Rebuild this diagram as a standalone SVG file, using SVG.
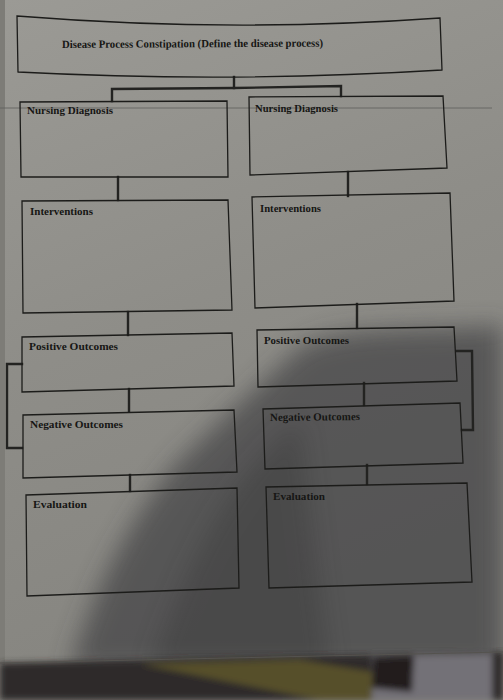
<svg xmlns="http://www.w3.org/2000/svg" width="503" height="700" viewBox="0 0 503 700">
<style>
.box{fill:none;stroke:#1c1c1a;stroke-width:1.3;stroke-linejoin:miter}
.lbl{font-family:"Liberation Serif","Times New Roman",serif;font-weight:bold;font-size:11px;fill:#161614}
.con{fill:none;stroke:#232321;stroke-width:2.4;stroke-linecap:square}
</style>
<defs>
<linearGradient id="paper" x1="0" y1="0" x2="0.3" y2="1">
<stop offset="0" stop-color="#9b9a95"/>
<stop offset="0.5" stop-color="#8e8d88"/>
<stop offset="1" stop-color="#85847f"/>
</linearGradient>
<filter id="blur" x="-20%" y="-20%" width="140%" height="140%"><feGaussianBlur stdDeviation="12"/></filter>
<filter id="blur2"><feGaussianBlur stdDeviation="3"/></filter>
</defs>
<!-- paper and photo backdrop -->
<rect x="0" y="0" width="503" height="700" fill="url(#paper)"/>
<rect x="0" y="0" width="5" height="665" fill="#7d7c77"/>
<path d="M503,325 C430,332 330,322 295,352 C255,390 215,425 175,465 C125,525 90,600 70,670 L503,670 Z" fill="#3e3e3f" opacity="0.66" filter="url(#blur)"/>
<path d="M300,420 C250,460 200,520 150,670 L330,670 C320,600 310,500 300,420 Z" fill="#2e2e2e" opacity="0.3" filter="url(#blur)"/>
<line x1="0" y1="108" x2="492" y2="108" stroke="#5e5e5b" stroke-width="0.8"/>
<g id="backdrop" filter="url(#blur2)">
<path d="M0,663 L503,652 L503,700 L0,700 Z" fill="#2f2c29"/>
<path d="M140,664 L300,660 L372,672 L372,700 L320,700 Z" fill="#56502c"/>
<path d="M372,656 L492,654 L492,700 L372,700 Z" fill="#737177"/>
<path d="M373,657 L414,656 L412,692 L372,688 Z" fill="#211c1f"/>
</g>
<path d="M0,663 L503,652" stroke="#55534f" stroke-width="1" fill="none"/>

<g id="connectors">
<polyline class="con" points="234,77 234,88"/>
<polyline class="con" points="112,101 112,89 234,88 341,86 341,96"/>
<polyline class="con" points="118,177 118,200"/>
<polyline class="con" points="348,172 348,196"/>
<polyline class="con" points="128,312 128,335"/>
<polyline class="con" points="129,389 129,411"/>
<polyline class="con" points="22,364 7,364 7,448 22,448"/>
<polyline class="con" points="130,475 130,491"/>
<polyline class="con" points="357,304 357,328"/>
<polyline class="con" points="364,383 364,405"/>
<polyline class="con" points="457,351 472,351 473,430 462,430"/>
<polyline class="con" points="367,465 367,484"/>
</g>

<g id="disease-process">
<path class="box" d="M17,16 Q230,33 440,18 L442,70 Q230,83 18,72 Z"/>
<text class="lbl" x="62" y="48" font-size="10" textLength="261" lengthAdjust="spacingAndGlyphs" transform="rotate(-0.3 62 48)">Disease Process Constipation (Define the disease process)</text>
</g>
<g id="nursing-diagnosis-left">
<polygon class="box" points="20,102 227,101 228,177 21,177"/>
<text class="lbl" x="27" y="114" textLength="86" lengthAdjust="spacingAndGlyphs">Nursing Diagnosis</text>
</g>
<g id="nursing-diagnosis-right">
<polygon class="box" points="249,97 443,96 447,168 250,175"/>
<text class="lbl" x="255" y="112" textLength="83" lengthAdjust="spacingAndGlyphs">Nursing Diagnosis</text>
</g>
<g id="interventions-left">
<polygon class="box" points="22,201 228,200 232,310 23,313"/>
<text class="lbl" x="30" y="215" textLength="63" lengthAdjust="spacingAndGlyphs">Interventions</text>
</g>
<g id="interventions-right">
<polygon class="box" points="252,197 450,193 454,301 255,308"/>
<text class="lbl" x="260" y="212" textLength="61" lengthAdjust="spacingAndGlyphs">Interventions</text>
</g>
<g id="positive-outcomes-left">
<polygon class="box" points="22,337 232,333 234,386 22,392"/>
<text class="lbl" x="29" y="350" textLength="89" lengthAdjust="spacingAndGlyphs">Positive Outcomes</text>
</g>
<g id="positive-outcomes-right">
<polygon class="box" points="257,330 454,327 457,381 258,387"/>
<text class="lbl" x="264" y="344" textLength="85" lengthAdjust="spacingAndGlyphs">Positive Outcomes</text>
</g>
<g id="negative-outcomes-left">
<polygon class="box" points="23,415 234,410 237,472 23,478"/>
<text class="lbl" x="30" y="428" textLength="93" lengthAdjust="spacingAndGlyphs">Negative Outcomes</text>
</g>
<g id="negative-outcomes-right">
<polygon class="box" points="263,409 460,403 463,463 265,469"/>
<text class="lbl" x="270" y="421" textLength="90" lengthAdjust="spacingAndGlyphs" transform="rotate(-0.6 270 421)">Negative Outcomes</text>
</g>
<g id="evaluation-left">
<polygon class="box" points="26,495 237,488 239,588 27,596"/>
<text class="lbl" x="33" y="508" textLength="54" lengthAdjust="spacingAndGlyphs">Evaluation</text>
</g>
<g id="evaluation-right">
<polygon class="box" points="266,487 467,483 472,582 269,588"/>
<text class="lbl" x="273" y="500" textLength="52" lengthAdjust="spacingAndGlyphs">Evaluation</text>
</g>
</svg>
